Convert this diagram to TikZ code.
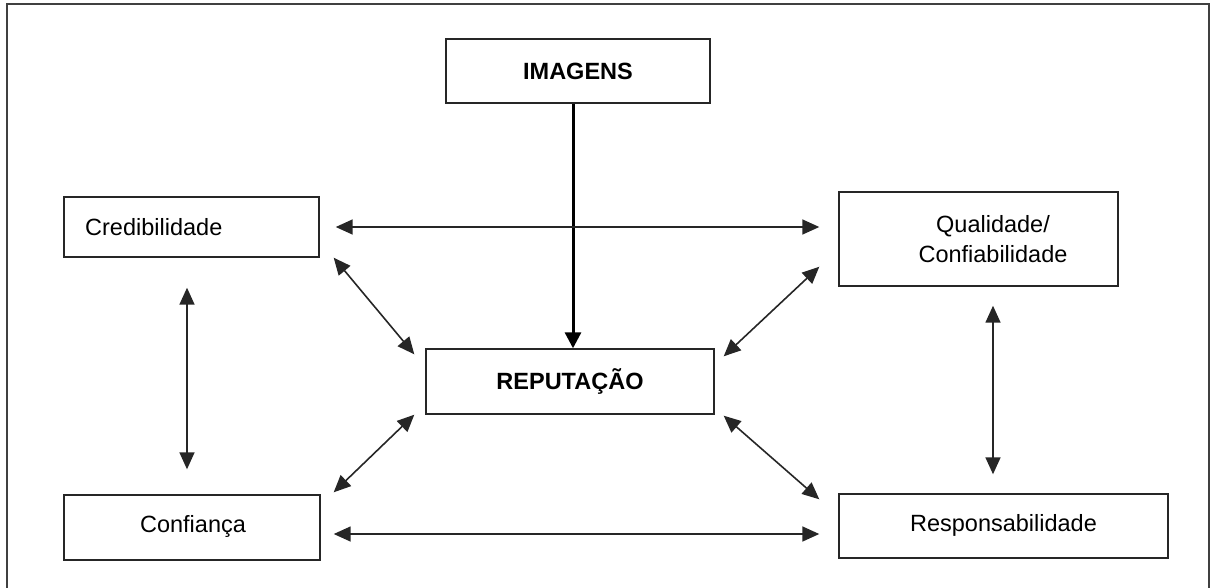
\documentclass[tikz,border=0pt]{standalone}
\usepackage{fontspec}
\setmainfont{Liberation Sans}
\usetikzlibrary{arrows.meta,calc}

\tikzset{
  box/.style={draw=black!85, line width=1.4pt, rectangle, inner sep=0pt},
  lbl/.style={font=\fontsize{23.5}{28}\selectfont, inner sep=0pt, align=center},
  link/.style={draw=black!85, line width=1.6pt,
    {Triangle[length=17pt,width=15pt]}-{Triangle[length=17pt,width=15pt]}},
  mainlink/.style={draw=black, line width=3pt,
    -{Triangle[length=16pt,width=16pt]}},
  frame/.style={draw=black!75, line width=2.5pt}
}

\begin{document}
\begin{tikzpicture}[x=1pt,y=-1pt]
  \useasboundingbox (0,0) rectangle (1210,587);

  % page frame (open at the bottom)
  \draw[frame] (7,600) -- (7,4) -- (1209,4) -- (1209,600);

  % boxes
  \node[box, minimum width=264pt, minimum height=64pt] (img)  at (578,71)    {};
  \node[box, minimum width=288pt, minimum height=65pt] (rep)  at (570,381.5) {};
  \node[box, minimum width=255pt, minimum height=60pt] (cred) at (191.5,227) {};
  \node[box, minimum width=279pt, minimum height=94pt] (qual) at (978.5,239) {};
  \node[box, minimum width=256pt, minimum height=65pt] (conf) at (192,527.5) {};
  \node[box, minimum width=329pt, minimum height=64pt] (resp) at (1003.5,526) {};

  % labels
  \node[lbl, font=\fontsize{23.5}{28}\selectfont\bfseries] (timg) at (578,71) {IMAGENS};
  \node[lbl, font=\fontsize{23.5}{28}\selectfont\bfseries] (trep) at (570,381) {REPUTAÇÃO};
  \node[lbl, anchor=west] (tcred) at (85,227) {Credibilidade};
  \node[lbl] (tqual) at (993,239) {Qualidade/\\[2pt]Confiabilidade};
  \node[lbl] (tconf) at (193,526) {Confiança};
  \node[lbl] (tresp) at (1003.5,525) {Responsabilidade};

  % images feed reputation
  \draw[mainlink] ([xshift=-5pt]img.south) -- ([xshift=3pt]rep.north);

  % horizontal links
  \draw[link] ($(cred.east)+(16,0)$) -- ($(qual.west)+(-19,-12)$);
  \draw[link] ($(conf.east)+(13,6.5)$) -- ($(resp.west)+(-19,8)$);

  % vertical links
  \draw[link] ($(cred.south)+(-4.5,30)$) -- ($(conf.north)+(-5,-25)$);
  \draw[link] ($(qual.south)+(14.5,19)$) -- ($(resp.north)+(-10.5,-19)$);

  % diagonal links to reputation
  \draw[link] ($(cred.south east)+(14,0)$) -- ($(rep.north west)+(-11,6)$);
  \draw[link] ($(qual.south west)+(-19,-20)$) -- ($(rep.north east)+(9,8)$);
  \draw[link] ($(conf.north east)+(13,-2)$) -- ($(rep.south west)+(-11,0)$);
  \draw[link] ($(resp.north west)+(-19,6)$) -- ($(rep.south east)+(9,1)$);
\end{tikzpicture}
\end{document}
